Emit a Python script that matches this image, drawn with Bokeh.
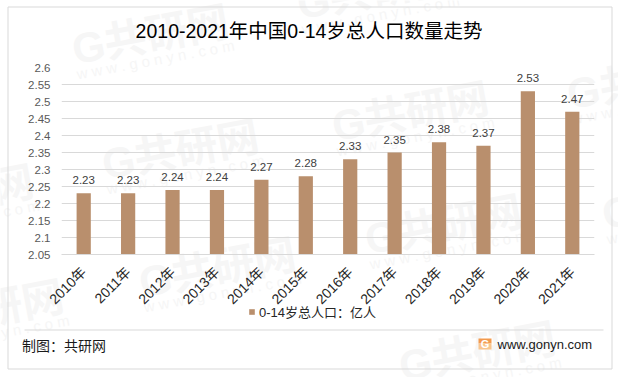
from bokeh.plotting import figure
from bokeh.layouts import column
from bokeh.embed import file_html
from bokeh.resources import INLINE
from bokeh.models import ColumnDataSource, FixedTicker, Legend, LegendItem, FactorRange
from bokeh.core.properties import value
import math

years = ["2010年","2011年","2012年","2013年","2014年","2015年","2016年","2017年","2018年","2019年","2020年","2021年"]
values = [2.23,2.23,2.24,2.24,2.27,2.28,2.33,2.35,2.38,2.37,2.53,2.47]
y_ticks = [2.05,2.1,2.15,2.2,2.25,2.3,2.35,2.4,2.45,2.5,2.55,2.6]
y_tick_labels = ["2.05","2.1","2.15","2.2","2.25","2.3","2.35","2.4","2.45","2.5","2.55","2.6"]
series_name = "0-14岁总人口：亿人"
title_text = "2010-2021年中国0-14岁总人口数量走势"
source_text = "制图：共研网"
site_text = "www.gonyn.com"
wm_big = "G共研网"
wm_small = "w w w . g o n y n . c o m"

FONT = "'Liberation Sans', 'Noto Sans CJK SC', sans-serif"
BAR = "#B98F6D"
LINE = "#D9D9D9"
W, H = 618, 377

# back layer: page furniture, drawn in pixel-like coordinates across the whole canvas
bg = figure(width=W, height=H, x_range=(0, W), y_range=(H, 0), x_axis_type=None, y_axis_type=None,
            output_backend="svg", toolbar_location=None, min_border=0, min_border_left=0, min_border_right=0,
            min_border_top=0, min_border_bottom=0, outline_line_color=None, frame_align=False,
            background_fill_color="white", border_fill_color="white")

def txt(x, y, s, size, color="#000000", align="left", angle=0, style="normal"):
    bg.text(x=[x], y=[y], text=[s], text_font=value(FONT), text_font_size=size, text_color=color,
            text_align=align, text_baseline="middle", angle=angle, text_font_style=style)

WM_CENTERS = [(150,35),(180,150),(217,268),(410,112),(443,225),(477,352),(645,80),(680,200),(-15,310),(-45,195),(375,-10)]
wm_angle = math.radians(10.5)
for cx, cy in WM_CENTERS:
    txt(cx, cy, wm_big, "42px", "#F6F6F6", "center", wm_angle, "bold")
    txt(cx+5, cy+24, wm_small, "15px", "#F6F6F6", "center", wm_angle)

bg.quad(left=[7.5], right=[611.5], top=[6.5], bottom=[368.5], fill_color=None, line_color=LINE, line_width=1)
bg.segment(x0=[24], x1=[603], y0=[329.5], y1=[329.5], line_color=LINE, line_width=1)

txt(308.5, 30, title_text, "19.5px", "#000000", "center")
txt(21.5, 345, source_text, "14px", "#1a1a1a")
txt(497, 343.5, site_text, "13px", "#1a1a1a")

bg.quad(left=[478], right=[491], top=[338], bottom=[343], fill_color="#F39A4E", line_color=None)
bg.quad(left=[478], right=[491], top=[343], bottom=[349], fill_color="#F9C58D", line_color=None)
txt(484.5, 343.5, "G", "11px", "#ffffff", "center", 0, "bold")

swatch = bg.quad(left=[-30], right=[-20], top=[-30], bottom=[-20], fill_color=BAR, line_color=None)
leg = Legend(items=[LegendItem(label=series_name, renderers=[swatch])], location=(248, 56),
             background_fill_alpha=0, border_line_color=None, glyph_width=7, glyph_height=7,
             label_text_font=FONT, label_text_font_size="13px", label_text_color="#262626",
             margin=0, padding=0, label_standoff=4, label_height=13, spacing=0)
bg.add_layout(leg, "center")

# front layer: the chart itself, transparent so that the back layer shows through
p = figure(width=W, height=H, x_range=FactorRange(*years, range_padding=0, factor_padding=0),
           y_range=(2.05, 2.6), output_backend="svg", toolbar_location=None, frame_align=False,
           min_border_left=61, min_border_right=24, min_border_top=67, min_border_bottom=123,
           outline_line_color=None, background_fill_alpha=0, border_fill_alpha=0,
           margin=(-H, 0, 0, 0))

p.vbar(x=years, top=values, bottom=2.05, width=0.32, fill_color=BAR, line_color=None)
src = ColumnDataSource(dict(x=years, y=values, t=["%.2f" % v for v in values]))
p.text(x="x", y="y", text="t", source=src, text_align="center", text_baseline="bottom", y_offset=-9,
       text_font=value(FONT), text_font_size="11.5px", text_color="#404040")

p.yaxis.ticker = FixedTicker(ticks=y_ticks)
p.yaxis.major_label_overrides = {t: l for t, l in zip(y_ticks, y_tick_labels)}
p.yaxis.major_label_text_font = FONT
p.yaxis.major_label_text_font_size = "11.5px"
p.yaxis.major_label_text_color = "#595959"
p.yaxis.axis_line_color = None
p.yaxis.major_tick_line_color = None
p.yaxis.minor_tick_line_color = None
p.yaxis.major_tick_out = 0
p.yaxis.major_label_standoff = 11

p.xaxis.major_label_orientation = math.pi/4
p.xaxis.major_label_text_font = FONT
p.xaxis.major_label_text_font_size = "14px"
p.xaxis.major_label_text_color = "#262626"
p.xaxis.axis_line_color = LINE
p.xaxis.major_tick_line_color = None
p.xaxis.major_tick_out = 0
p.xaxis.major_label_standoff = 15

p.xgrid.grid_line_color = None
p.ygrid.ticker = FixedTicker(ticks=y_ticks)
p.ygrid.grid_line_color = LINE

open("out.html", "w").write(file_html(column(bg, p), INLINE))
